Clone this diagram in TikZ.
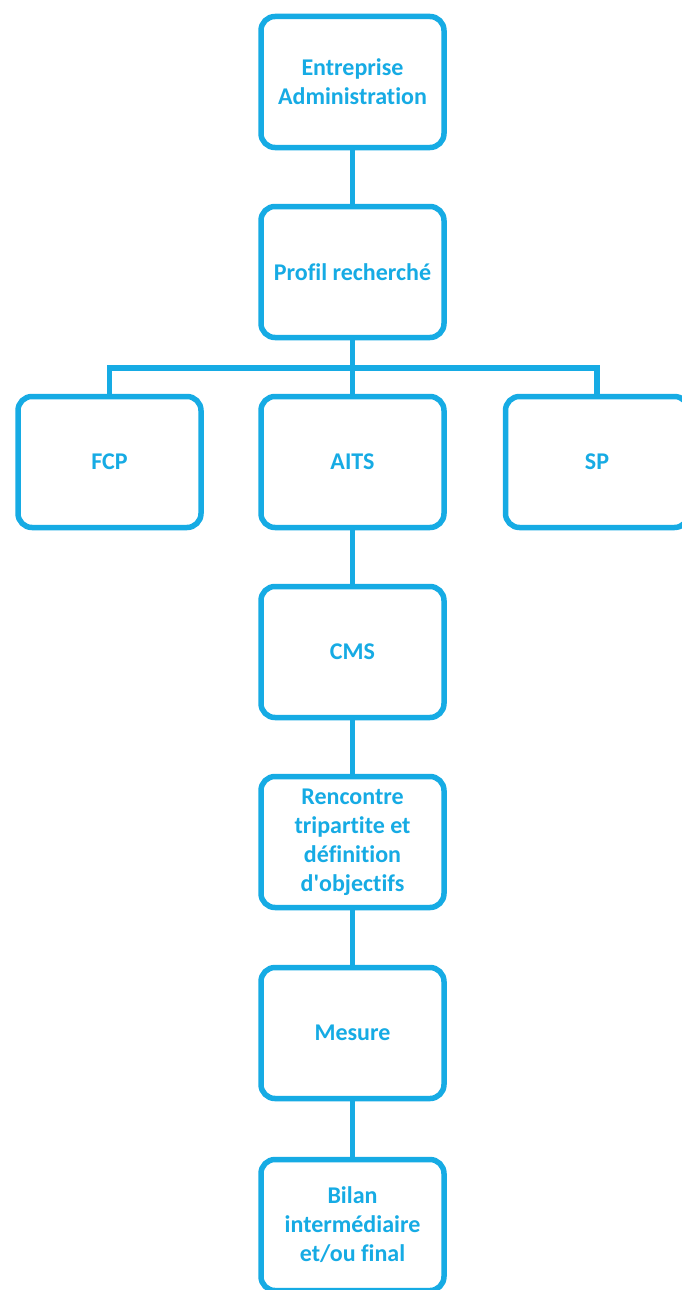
\documentclass[tikz,border=0pt]{standalone}
\usepackage{fontspec}
\setmainfont{Carlito}[Ligatures=NoCommon]
\definecolor{cyanline}{RGB}{22,171,228}
\begin{document}
\begin{tikzpicture}[x=1pt,y=-1pt,
  box/.style={draw=cyanline, line width=5.5pt, rounded corners=14pt, fill=white,
    minimum width=183pt, minimum height=131pt, align=center, inner sep=0pt,
    text=cyanline, font=\fontsize{24}{29}\selectfont\bfseries},
  link/.style={draw=cyanline, line width=5.5pt}]
\useasboundingbox (0,0) rectangle (681,1290);
\coordinate (bar) at (352.5,368);
\draw[link] (352.5,82) -- (352.5,1224);
\draw[link] (109.5,462) |- (bar) -| (597,462);
\node[box] (ent) at (352.5,82) {Entreprise\\Administration};
\node[box] (prof) at (352.5,272) {Profil recherché};
\node[box] (fcp) at (109.5,462) {FCP};
\node[box] (aits) at (352.5,462) {AITS};
\node[box] (sp) at (597,462) {SP};
\node[box] (cms) at (352.5,652) {CMS};
\node[box] (renc) at (352.5,842) {Rencontre\\tripartite et\\définition\\d\textquotesingle objectifs};
\node[box] (mes) at (352.5,1033) {Mesure};
\node[box] (bil) at (352.5,1225) {Bilan\\intermédiaire\\et/ou final};
\end{tikzpicture}
\end{document}
